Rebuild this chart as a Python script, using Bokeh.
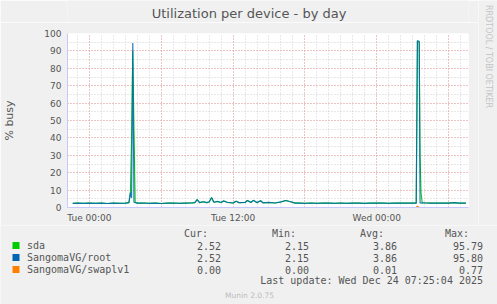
import math
from bokeh.plotting import figure
from bokeh.layouts import column, row
from bokeh.models import Range1d, Grid, SingleIntervalTicker, FixedTicker
from bokeh.core.properties import value
from bokeh.embed import file_html
from bokeh.resources import INLINE

# ---------------- data ----------------
# hours relative to Tue 00:00
hours = [-1.4, -1.0, -0.5, 0.0, 0.5, 1.0, 1.5, 2.0, 2.5, 3.0, 3.3, 3.42, 3.52, 3.62, 3.72, 3.82,
         4.0, 4.5, 5.0, 5.5, 6.0, 6.5, 7.0, 7.5, 8.0, 8.5, 8.8, 9.0, 9.2, 9.5, 9.8, 10.0, 10.2,
         10.4, 10.7, 11.0, 11.2, 11.5, 12.0, 12.25, 12.5, 13.0, 13.2, 13.5, 13.7, 14.0, 14.3,
         14.5, 15.0, 15.5, 16.0, 16.4, 16.8, 17.2, 17.5, 18.0, 18.5, 19.0, 19.5, 20.0, 20.5,
         21.0, 21.5, 22.0, 22.5, 23.0, 23.5, 24.0, 24.5, 25.0, 25.5, 26.0, 26.5, 27.0, 27.3,
         27.4, 27.55, 27.62, 27.7, 27.8, 28.2, 28.5, 29.0, 29.5, 30.0, 30.5, 30.8, 31.0, 31.45]
sda = [2.4, 2.5, 2.4, 2.6, 2.4, 2.5, 2.3, 2.5, 2.4, 2.5, 2.8, 8.5, 40.0, 90.0, 45.0, 3.2,
       2.5, 2.6, 2.4, 2.5, 2.3, 2.5, 2.6, 2.4, 2.5, 2.6, 2.8, 4.6, 2.8, 3.3, 2.8, 3.2, 5.7,
       3.0, 3.5, 2.9, 3.8, 3.0, 2.6, 3.6, 2.8, 2.9, 4.0, 2.9, 4.1, 2.8, 3.9,
       2.7, 2.9, 2.6, 3.2, 4.0, 3.3, 2.5, 2.5, 2.4, 2.6, 2.4, 2.5, 2.5, 2.4,
       2.6, 2.4, 2.5, 2.5, 2.4, 2.5, 2.5, 2.6, 2.4, 2.5, 2.6, 2.5, 2.5, 2.5,
       95.79, 95.0, 30.0, 8.5, 2.7, 2.6, 2.5, 2.5, 2.6, 2.5, 2.8, 2.5, 2.6, 2.52]
root = [2.4, 2.5, 2.4, 2.5, 2.4, 2.5, 2.3, 2.5, 2.4, 2.5, 2.8, 8.6, 5.5, 94.5, 3.0, 2.8,
        2.5, 2.6, 2.4, 2.5, 2.3, 2.5, 2.6, 2.4, 2.5, 2.6, 2.8, 4.5, 2.8, 3.3, 2.8, 3.2, 5.6,
        3.0, 3.5, 2.9, 3.8, 3.0, 2.6, 3.6, 2.8, 2.9, 4.0, 2.9, 4.1, 2.8, 3.9,
        2.7, 2.9, 2.6, 3.2, 4.0, 3.3, 2.5, 2.5, 2.4, 2.6, 2.4, 2.5, 2.5, 2.4,
        2.6, 2.4, 2.5, 2.5, 2.4, 2.5, 2.5, 2.6, 2.4, 2.5, 2.6, 2.5, 2.5, 2.5,
        95.8, 95.5, 2.6, 2.5, 2.7, 2.6, 2.5, 2.5, 2.6, 2.5, 2.8, 2.5, 2.6, 2.52]
swap = [0.0] * 75 + [0.77] + [0.0] * 13

x_tick_hours = [0, 12, 24]
x_tick_labels = ["Tue 00:00", "Tue 12:00", "Wed 00:00"]

series_names = ["sda", "SangomaVG/root", "SangomaVG/swaplv1"]
series_colors = ["#00CC00", "#0066B3", "#FF8000"]
cur_vals = ["2.52", "2.52", "0.00"]
min_vals = ["2.15", "2.15", "0.00"]
avg_vals = ["3.86", "3.86", "0.01"]
max_vals = ["95.79", "95.80", "0.77"]
stat_headers = ["Cur:", "Min:", "Avg:", "Max:"]

title_text = "Utilization per device - by day"
y_label = "% busy"
last_update = "Last update: Wed Dec 24 07:25:04 2025"
footer = "Munin 2.0.75"
side_text = "RRDTOOL / TOBI OETIKER"

# ---------------- layout ----------------
W, H = 497, 304
MAIN_W = 478
SIDE_W = W - MAIN_W
TITLE_H = 22
UPPER_H = 225
MAIN_H = UPPER_H - TITLE_H
LEG_H = H - UPPER_H
FL, FT = 66, 33
FW, FH = 402, 175
X0 = -22 / 12
X1 = 380 / 12
Y0, Y1 = 0, 100

TXT = "#555555"
BG = "#F0F0F0"
MONO = "DejaVu Sans Mono"
SANS = "DejaVu Sans"


def strip(w, h, left=0, right=0):
    f = figure(width=w, height=h, x_range=Range1d(left, w - right), y_range=Range1d(0, h),
               output_backend="svg", toolbar_location=None, x_axis_type=None, y_axis_type=None,
               min_border=0, min_border_left=left, min_border_right=right,
               background_fill_color=BG, border_fill_color=BG, outline_line_color=None)
    f.xgrid.visible = False
    f.ygrid.visible = False
    return f


# ---- title strip (its frame is aligned with the chart frame by the column layout) ----
top = strip(MAIN_W, TITLE_H, left=FL, right=MAIN_W - FL - FW)
top.text(x=[248], y=[TITLE_H - 13], text=[title_text], text_font=value(SANS), text_font_size="13px",
         text_color=TXT, text_align="center", text_baseline="middle")

# ---- main chart ----
p = figure(width=MAIN_W, height=MAIN_H, x_range=Range1d(X0, X1), y_range=Range1d(Y0, Y1),
           output_backend="svg", toolbar_location=None,
           min_border_left=FL, min_border_right=MAIN_W - FL - FW, min_border_top=FT - TITLE_H,
           min_border_bottom=MAIN_H - (FT - TITLE_H) - FH,
           background_fill_color="white", border_fill_color=BG, outline_line_color=None)

p.xgrid.visible = False
p.ygrid.visible = False
for dim, interval, color in [(0, 1, "#D0D0D0"), (1, 5, "#D0D0D0"), (0, 6, "#F2A0A0"), (1, 10, "#F2A0A0")]:
    g = Grid(dimension=dim, ticker=SingleIntervalTicker(interval=interval, num_minor_ticks=0),
             grid_line_color=color, grid_line_dash="1 2", grid_line_width=1)
    p.add_layout(g)

p.xaxis.ticker = FixedTicker(ticks=x_tick_hours)
p.xaxis.major_label_overrides = {t: l for t, l in zip(x_tick_hours, x_tick_labels)}
p.yaxis.ticker = SingleIntervalTicker(interval=10, num_minor_ticks=0)
for ax in (p.xaxis, p.yaxis):
    ax.major_tick_in = 0
    ax.major_tick_out = 0
    ax.minor_tick_in = 0
    ax.minor_tick_out = 0
    ax.axis_line_color = "#C8C8FF"
    ax.major_label_text_font = SANS
    ax.major_label_text_font_size = "9px"
    ax.major_label_text_color = TXT
p.xaxis.major_label_standoff = 5
p.yaxis.major_label_standoff = 6
p.yaxis.axis_label = y_label
p.yaxis.axis_label_text_font = SANS
p.yaxis.axis_label_text_font_size = "11px"
p.yaxis.axis_label_text_font_style = "normal"
p.yaxis.axis_label_text_color = TXT
p.yaxis.axis_label_standoff = 25

p.line(hours, sda, line_color=series_colors[0], line_width=1.1)
p.line(hours, root, line_color=series_colors[1], line_width=1.2, line_alpha=0.85)
p.line(hours, swap, line_color=series_colors[2], line_width=1.2)

# ---- side strip with the RRDtool credit ----
side = strip(SIDE_W, UPPER_H)
side.text(x=[488 - MAIN_W], y=[UPPER_H - 56], text=[side_text], angle=-math.pi / 2,
          text_font=value(SANS), text_font_size="8px", text_color="#C4C4C4",
          text_align="center", text_baseline="middle")

# ---- legend / statistics strip ----
leg = strip(W, LEG_H)


def ly(py):
    return H - py


def ltext(xs, ys, texts, align, font=MONO, size="10px", color=TXT):
    leg.text(x=xs, y=[ly(v) for v in ys], text=texts, text_font=value(font), text_font_size=size,
             text_color=color, text_align=align, text_baseline="middle")


header_y = 233
rows_y = [245, 257, 269]
ltext([207.5, 295.5, 383.5, 468.5], [header_y] * 4, stat_headers, "right")
ltext([26.5] * 3, rows_y, series_names, "left")
ltext([220.5] * 3, rows_y, cur_vals, "right")
ltext([308.5] * 3, rows_y, min_vals, "right")
ltext([396.5] * 3, rows_y, avg_vals, "right")
ltext([482.5] * 3, rows_y, max_vals, "right")
ltext([482.5], [280], [last_update], "right")
ltext([249], [295], [footer], "center", font=SANS, size="7.5px", color="#BBBBBB")
leg.rect(x=[15.5] * 3, y=[ly(v) for v in rows_y], width=7, height=7, width_units="screen",
         height_units="screen", fill_color=series_colors, line_color=None)

layout = column(row(column(top, p, spacing=0), side, spacing=0), leg, spacing=0)
open("out.html", "w").write(file_html(layout, INLINE))
